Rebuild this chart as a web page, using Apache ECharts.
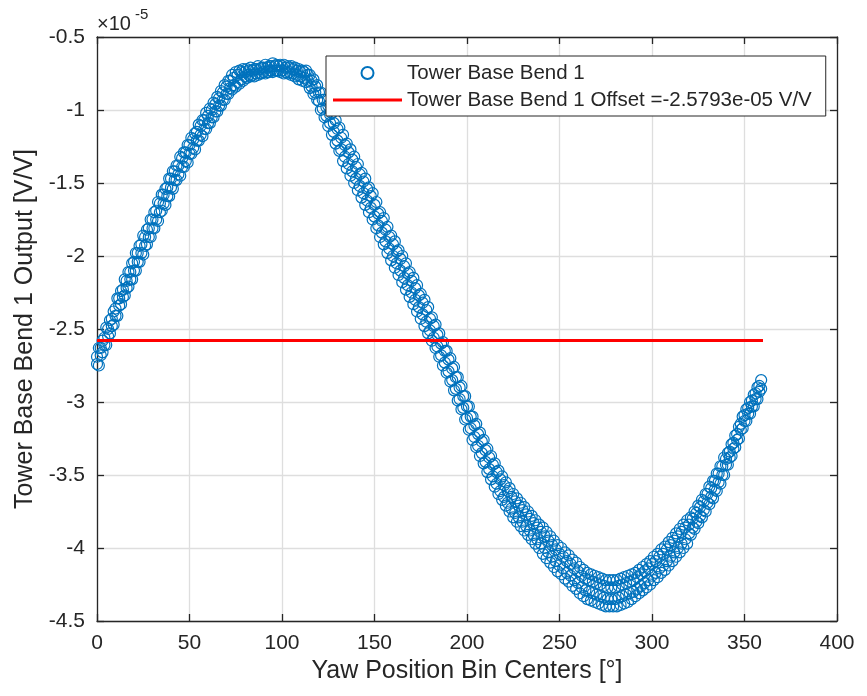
<!DOCTYPE html>
<html><head><meta charset="utf-8">
<script src="https://cdn.jsdelivr.net/npm/echarts/dist/echarts.min.js"></script>
<style>html,body{margin:0;padding:0;background:#fff}#c{width:867px;height:696px}</style>
</head><body><div id="c"></div>
<script>
// Yaw bin centers [deg], odd-degree bins
const yawBinsOdd = [
1,3,5,7,9,11,13,15,17,19,
21,23,25,27,29,31,33,35,37,39,
41,43,45,47,49,51,53,55,57,59,
61,63,65,67,69,71,73,75,77,79,
81,83,85,87,89,91,93,95,97,99,
101,103,105,107,109,111,113,115,117,119,
121,123,125,127,129,131,133,135,137,139,
141,143,145,147,149,151,153,155,157,159,
161,163,165,167,169,171,173,175,177,179,
181,183,185,187,189,191,193,195,197,199,
201,203,205,207,209,211,213,215,217,219,
221,223,225,227,229,231,233,235,237,239,
241,243,245,247,249,251,253,255,257,259,
261,263,265,267,269,271,273,275,277,279,
281,283,285,287,289,291,293,295,297,299,
301,303,305,307,309,311,313,315,317,319,
321,323,325,327,329,331,333,335,337,339,
341,343,345,347,349,351,353,355,357,359
];
// Yaw bin centers [deg], even-degree bins
const yawBinsEven = [
0,2,4,6,8,10,12,14,16,18,
20,22,24,26,28,30,32,34,36,38,
40,42,44,46,48,50,52,54,56,58,
60,62,64,66,68,70,72,74,76,78,
80,82,84,86,88,90,92,94,96,98,
100,102,104,106,108,110,112,114,116,118,
120,122,124,126,128,130,132,134,136,138,
140,142,144,146,148,150,152,154,156,158,
160,162,164,166,168,170,172,174,176,178,
180,182,184,186,188,190,192,194,196,198,
200,202,204,206,208,210,212,214,216,218,
220,222,224,226,228,230,232,234,236,238,
240,242,244,246,248,250,252,254,256,258,
260,262,264,266,268,270,272,274,276,278,
280,282,284,286,288,290,292,294,296,298,
300,302,304,306,308,310,312,314,316,318,
320,322,324,326,328,330,332,334,336,338,
340,342,344,346,348,350,352,354,356,358
];
// Tower Base Bend 1 output (x1e-5 V/V): outer-upper points, odd bins
const bendUpperOdd = [
-2.63,-2.58,-2.49,-2.44,-2.38,-2.29,-2.24,-2.16,-2.11,-2.05,
-1.98,-1.93,-1.86,-1.82,-1.75,-1.70,-1.63,-1.58,-1.54,-1.47,
-1.42,-1.38,-1.32,-1.29,-1.24,-1.19,-1.16,-1.10,-1.07,-1.02,
-0.99,-0.95,-0.91,-0.87,-0.83,-0.80,-0.76,-0.74,-0.73,-0.72,
-0.72,-0.71,-0.72,-0.70,-0.71,-0.69,-0.70,-0.68,-0.69,-0.69,
-0.69,-0.70,-0.70,-0.71,-0.72,-0.73,-0.73,-0.76,-0.79,-0.83,
-0.88,-0.93,-0.97,-1.02,-1.07,-1.12,-1.17,-1.23,-1.27,-1.32,
-1.37,-1.43,-1.47,-1.53,-1.57,-1.63,-1.70,-1.74,-1.80,-1.86,
-1.90,-1.96,-2.00,-2.05,-2.11,-2.15,-2.20,-2.26,-2.30,-2.35,
-2.42,-2.47,-2.53,-2.59,-2.65,-2.70,-2.76,-2.83,-2.89,-2.96,
-3.03,-3.10,-3.15,-3.21,-3.26,-3.32,-3.37,-3.42,-3.47,-3.51,
-3.55,-3.59,-3.63,-3.66,-3.69,-3.72,-3.75,-3.78,-3.81,-3.84,
-3.86,-3.89,-3.92,-3.95,-3.98,-4.00,-4.03,-4.05,-4.08,-4.10,
-4.13,-4.15,-4.17,-4.18,-4.19,-4.20,-4.21,-4.22,-4.22,-4.22,
-4.22,-4.21,-4.20,-4.19,-4.18,-4.17,-4.15,-4.13,-4.11,-4.09,
-4.06,-4.04,-4.01,-3.99,-3.96,-3.93,-3.90,-3.87,-3.84,-3.81,
-3.79,-3.75,-3.71,-3.67,-3.63,-3.58,-3.54,-3.49,-3.44,-3.38,
-3.35,-3.29,-3.23,-3.17,-3.10,-3.05,-3.00,-2.95,-2.90,-2.85
];
// outer-lower points, odd bins
const bendLowerOdd = [
-2.75,-2.66,-2.61,-2.53,-2.47,-2.41,-2.33,-2.27,-2.21,-2.16,
-2.10,-2.04,-1.99,-1.92,-1.87,-1.81,-1.76,-1.69,-1.65,-1.59,
-1.54,-1.48,-1.45,-1.39,-1.36,-1.30,-1.27,-1.21,-1.18,-1.13,
-1.09,-1.05,-1.01,-0.97,-0.93,-0.89,-0.86,-0.84,-0.82,-0.80,
-0.78,-0.77,-0.77,-0.76,-0.75,-0.75,-0.74,-0.74,-0.73,-0.74,
-0.75,-0.75,-0.76,-0.77,-0.79,-0.80,-0.81,-0.85,-0.89,-0.93,
-1.00,-1.05,-1.11,-1.17,-1.23,-1.28,-1.35,-1.40,-1.45,-1.50,
-1.55,-1.60,-1.65,-1.70,-1.75,-1.81,-1.87,-1.92,-1.98,-2.03,
-2.08,-2.13,-2.18,-2.23,-2.28,-2.33,-2.38,-2.43,-2.48,-2.53,
-2.58,-2.63,-2.69,-2.75,-2.80,-2.86,-2.92,-2.99,-3.05,-3.12,
-3.19,-3.26,-3.31,-3.37,-3.42,-3.48,-3.53,-3.58,-3.63,-3.67,
-3.71,-3.75,-3.79,-3.82,-3.85,-3.88,-3.91,-3.94,-3.97,-4.00,
-4.04,-4.07,-4.10,-4.13,-4.16,-4.18,-4.21,-4.23,-4.26,-4.28,
-4.31,-4.33,-4.35,-4.36,-4.37,-4.38,-4.39,-4.40,-4.40,-4.40,
-4.40,-4.39,-4.38,-4.37,-4.35,-4.33,-4.31,-4.29,-4.27,-4.25,
-4.22,-4.20,-4.17,-4.15,-4.12,-4.09,-4.06,-4.03,-4.00,-3.97,
-3.91,-3.87,-3.83,-3.79,-3.75,-3.70,-3.66,-3.61,-3.56,-3.50,
-3.43,-3.37,-3.31,-3.25,-3.18,-3.13,-3.08,-3.03,-2.98,-2.91
];
// inner-upper points, even bins
const bendUpperEven = [
-2.69,-2.63,-2.56,-2.50,-2.43,-2.36,-2.29,-2.23,-2.17,-2.11,
-2.04,-1.98,-1.92,-1.87,-1.81,-1.75,-1.69,-1.64,-1.58,-1.53,
-1.47,-1.42,-1.38,-1.33,-1.29,-1.24,-1.20,-1.15,-1.11,-1.07,
-1.04,-1.00,-0.96,-0.92,-0.88,-0.84,-0.80,-0.78,-0.76,-0.74,
-0.74,-0.73,-0.73,-0.72,-0.72,-0.71,-0.71,-0.70,-0.70,-0.70,
-0.70,-0.71,-0.71,-0.72,-0.73,-0.74,-0.74,-0.76,-0.80,-0.84,
-0.88,-0.93,-0.98,-1.03,-1.09,-1.13,-1.19,-1.24,-1.29,-1.34,
-1.39,-1.44,-1.49,-1.54,-1.59,-1.65,-1.71,-1.76,-1.82,-1.87,
-1.92,-1.97,-2.02,-2.07,-2.12,-2.17,-2.22,-2.27,-2.32,-2.37,
-2.43,-2.48,-2.54,-2.60,-2.65,-2.71,-2.77,-2.83,-2.90,-2.96,
-3.03,-3.10,-3.16,-3.22,-3.27,-3.33,-3.38,-3.43,-3.48,-3.53,
-3.57,-3.61,-3.65,-3.68,-3.71,-3.74,-3.77,-3.80,-3.83,-3.86,
-3.89,-3.92,-3.95,-3.98,-4.01,-4.04,-4.06,-4.09,-4.11,-4.14,
-4.16,-4.19,-4.21,-4.22,-4.23,-4.24,-4.25,-4.26,-4.27,-4.27,
-4.27,-4.26,-4.25,-4.24,-4.23,-4.22,-4.20,-4.18,-4.16,-4.14,
-4.11,-4.09,-4.06,-4.04,-4.01,-3.98,-3.95,-3.92,-3.89,-3.86,
-3.84,-3.80,-3.76,-3.72,-3.68,-3.63,-3.59,-3.54,-3.49,-3.44,
-3.39,-3.34,-3.28,-3.22,-3.15,-3.09,-3.04,-2.99,-2.94,-2.89
];
// inner-lower points, even bins
const bendLowerEven = [
-2.74,-2.68,-2.61,-2.55,-2.48,-2.41,-2.34,-2.28,-2.22,-2.16,
-2.10,-2.04,-1.98,-1.93,-1.87,-1.81,-1.75,-1.70,-1.64,-1.59,
-1.53,-1.48,-1.44,-1.39,-1.35,-1.30,-1.26,-1.21,-1.17,-1.13,
-1.09,-1.05,-1.01,-0.97,-0.93,-0.89,-0.85,-0.83,-0.81,-0.79,
-0.77,-0.76,-0.76,-0.75,-0.75,-0.74,-0.74,-0.73,-0.73,-0.73,
-0.73,-0.74,-0.74,-0.75,-0.76,-0.77,-0.78,-0.80,-0.84,-0.88,
-0.94,-0.99,-1.04,-1.09,-1.15,-1.21,-1.27,-1.32,-1.37,-1.42,
-1.47,-1.52,-1.57,-1.62,-1.67,-1.73,-1.79,-1.84,-1.90,-1.95,
-2.00,-2.05,-2.10,-2.15,-2.20,-2.25,-2.30,-2.35,-2.40,-2.45,
-2.51,-2.56,-2.62,-2.68,-2.73,-2.79,-2.85,-2.91,-2.98,-3.04,
-3.11,-3.18,-3.24,-3.30,-3.35,-3.41,-3.46,-3.51,-3.56,-3.61,
-3.65,-3.69,-3.73,-3.76,-3.79,-3.82,-3.85,-3.88,-3.91,-3.94,
-3.97,-4.00,-4.03,-4.06,-4.09,-4.12,-4.14,-4.17,-4.19,-4.22,
-4.24,-4.27,-4.29,-4.30,-4.31,-4.32,-4.33,-4.34,-4.35,-4.35,
-4.35,-4.34,-4.33,-4.32,-4.31,-4.30,-4.28,-4.26,-4.24,-4.22,
-4.19,-4.17,-4.14,-4.12,-4.09,-4.06,-4.03,-4.00,-3.97,-3.94,
-3.90,-3.86,-3.82,-3.78,-3.74,-3.69,-3.65,-3.60,-3.55,-3.50,
-3.43,-3.38,-3.32,-3.26,-3.19,-3.13,-3.08,-3.03,-2.98,-2.93
];
const offsetValue = -2.5793;     // x1e-5 V/V
const offsetSpan = [0, 360];     // yaw range of the offset line
const seriesNames = ['Tower Base Bend 1', 'Tower Base Bend 1 Offset =-2.5793e-05 V/V'];
const xAxisTitle = 'Yaw Position Bin Centers [°]';
const yAxisTitle = 'Tower Base Bend 1 Output [V/V]';

const scatterData = [];
yawBinsOdd.forEach((x, i) => scatterData.push([x, bendUpperOdd[i]]));
yawBinsOdd.forEach((x, i) => scatterData.push([x, bendLowerOdd[i]]));
yawBinsEven.forEach((x, i) => scatterData.push([x, bendUpperEven[i]]));
yawBinsEven.forEach((x, i) => scatterData.push([x, bendLowerEven[i]]));
const offsetData = offsetSpan.map(x => [x, offsetValue]);

const FONT = 'Liberation Sans, Arial, Helvetica, sans-serif';
const AX = '#262626';
const GRID = '#dedede';

const chart = echarts.init(document.getElementById('c'), null, {renderer: 'canvas'});
const baseX = {
  type: 'value', min: 0, max: 400, interval: 50,
  axisLine: {show: true, onZero: false, lineStyle: {color: AX, width: 1.3}},
  axisTick: {show: true, inside: true, length: 7, lineStyle: {color: AX, width: 1.3}},
};
const baseY = {
  type: 'value', min: -4.5, max: -0.5, interval: 0.5,
  axisLine: {show: true, onZero: false, lineStyle: {color: AX, width: 1.3}},
  axisTick: {show: true, inside: true, length: 7, lineStyle: {color: AX, width: 1.3}},
};
chart.setOption({
  animation: false,
  backgroundColor: '#fff',
  grid: {left: 97, right: 30, top: 37, bottom: 75, containLabel: false},
  xAxis: [
    Object.assign({}, baseX, {
      position: 'bottom',
      axisLabel: {color: AX, fontSize: 21, margin: 12, fontFamily: FONT},
      splitLine: {show: true, lineStyle: {color: GRID, width: 1.3}},
      name: xAxisTitle, nameLocation: 'middle', nameGap: 36,
      nameTextStyle: {color: AX, fontSize: 25, fontFamily: FONT}
    }),
    Object.assign({}, baseX, {
      position: 'top',
      axisLabel: {show: false}, splitLine: {show: false}
    })
  ],
  yAxis: [
    Object.assign({}, baseY, {
      position: 'left',
      axisLabel: {color: AX, fontSize: 21, margin: 12, fontFamily: FONT},
      splitLine: {show: true, lineStyle: {color: GRID, width: 1.3}},
      name: yAxisTitle, nameLocation: 'middle', nameGap: 59,
      nameTextStyle: {color: AX, fontSize: 25, fontFamily: FONT}
    }),
    Object.assign({}, baseY, {
      position: 'right',
      axisLabel: {show: false}, splitLine: {show: false}
    })
  ],
  legend: {
    orient: 'vertical', left: 326, top: 56,
    padding: [6, 14, 5, 7], itemGap: 5, itemWidth: 69, itemHeight: 12,
    borderColor: AX, borderWidth: 1, borderRadius: 0, backgroundColor: '#fff',
    selectedMode: false,
    textStyle: {color: AX, fontSize: 20.5, lineHeight: 22, fontFamily: FONT},
    data: [
      {name: seriesNames[0]},
      {name: seriesNames[1], icon: 'path://M0,0L69,0L69,3L0,3Z'}
    ]
  },
  graphic: [
    {type: 'text', left: 97, top: 14, style: {text: '×10', fontSize: 20, fill: AX, fontFamily: FONT}},
    {type: 'text', left: 135, top: 7, style: {text: '-5', fontSize: 15, fill: AX, fontFamily: FONT}}
  ],
  series: [
    {
      name: seriesNames[0], type: 'scatter', xAxisIndex: 0, yAxisIndex: 0,
      data: scatterData, symbol: 'circle', symbolSize: 11,
      itemStyle: {color: 'rgba(0,0,0,0)', borderColor: '#0072BD', borderWidth: 1.2, opacity: 1},
      emphasis: {disabled: true}, z: 2
    },
    {
      name: seriesNames[1], type: 'line', xAxisIndex: 0, yAxisIndex: 0,
      data: offsetData, symbol: 'none',
      lineStyle: {color: '#FF0000', width: 3}, itemStyle: {color: '#FF0000'},
      emphasis: {disabled: true}, z: 3
    }
  ]
});
</script></body></html>
